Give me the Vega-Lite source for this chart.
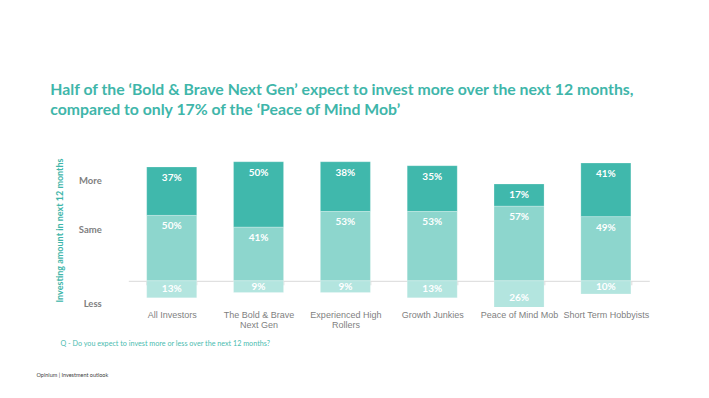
{
  "$schema": "https://vega.github.io/schema/vega-lite/v6.json",
  "width": 521,
  "height": 157,
  "autosize": "none",
  "padding": {"left": 128.3, "top": 150, "right": 59.7, "bottom": 91},
  "background": "white",
  "config": {"view": {"stroke": null}},
  "title": {
    "text": ["Half of the ‘Bold & Brave Next Gen’ expect to invest more over the next 12 months,", "compared to only 17% of the ‘Peace of Mind Mob’"],
    "anchor": "start",
    "frame": "group",
    "dx": -78,
    "offset": 31,
    "font": "Lato",
    "fontSize": 15.8,
    "fontWeight": "bold",
    "color": "#3fb6aa",
    "lineHeight": 20
  },
  "data": {
    "values": [
      {"group": "All Investors", "level": "More", "pct": 37},
      {"group": "All Investors", "level": "Same", "pct": 50},
      {"group": "All Investors", "level": "Less", "pct": 13},
      {"group": "The Bold & Brave Next Gen", "level": "More", "pct": 50},
      {"group": "The Bold & Brave Next Gen", "level": "Same", "pct": 41},
      {"group": "The Bold & Brave Next Gen", "level": "Less", "pct": 9},
      {"group": "Experienced High Rollers", "level": "More", "pct": 38},
      {"group": "Experienced High Rollers", "level": "Same", "pct": 53},
      {"group": "Experienced High Rollers", "level": "Less", "pct": 9},
      {"group": "Growth Junkies", "level": "More", "pct": 35},
      {"group": "Growth Junkies", "level": "Same", "pct": 53},
      {"group": "Growth Junkies", "level": "Less", "pct": 13},
      {"group": "Peace of Mind Mob", "level": "More", "pct": 17},
      {"group": "Peace of Mind Mob", "level": "Same", "pct": 57},
      {"group": "Peace of Mind Mob", "level": "Less", "pct": 26},
      {"group": "Short Term Hobbyists", "level": "More", "pct": 41},
      {"group": "Short Term Hobbyists", "level": "Same", "pct": 49},
      {"group": "Short Term Hobbyists", "level": "Less", "pct": 10}
    ]
  },
  "transform": [
    {"calculate": "datum.level === 'Less' ? -datum.pct : datum.pct", "as": "v"},
    {"calculate": "datum.pct + '%'", "as": "label"}
  ],
  "encoding": {
    "order": {"field": "level", "sort": "descending"}
  },
  "resolve": {"axis": {"x": "independent", "y": "independent"}},
  "layer": [
    {
      "mark": {"type": "bar", "clip": true, "stroke": "#ffffff", "strokeOpacity": 0.35, "strokeWidth": 0.6},
      "encoding": {
        "x": {
          "field": "group",
          "type": "nominal",
          "sort": null,
          "scale": {"paddingInner": 0.424, "paddingOuter": 0.212},
          "axis": {
            "orient": "bottom",
            "labelAngle": 0,
            "labelExpr": "datum.label === 'The Bold & Brave Next Gen' ? ['The Bold & Brave', 'Next Gen'] : datum.label === 'Experienced High Rollers' ? ['Experienced High', 'Rollers'] : datum.label",
            "offset": -26.2,
            "domainColor": "#d9d9d9",
            "tickColor": "#d9d9d9",
            "tickSize": 4,
            "tickBand": "extent",
            "labelPadding": 26,
            "labelFont": "Liberation Sans",
            "labelFontSize": 9,
            "labelColor": "#7f7f7f",
            "labelLineHeight": 10,
            "labelBaseline": "top",
            "title": "Q - Do you expect to invest more or less over the next 12 months?",
            "titleAnchor": "start",
            "titleAlign": "left",
            "titleBaseline": "middle",
            "titleX": -68.3,
            "titleY": 62.2,
            "titleFont": "Lato",
            "titleFontSize": 7.2,
            "titleFontWeight": "normal",
            "titleColor": "#4cbcb0"
          }
        },
        "y": {
          "field": "v",
          "type": "quantitative",
          "stack": "zero",
          "scale": {"domain": [-20, 100], "nice": false, "zero": false},
          "axis": {
            "orient": "left",
            "values": [77, 39, -17.7],
            "labelExpr": "datum.value > 60 ? 'More' : datum.value > 0 ? 'Same' : 'Less'",
            "grid": false,
            "domain": false,
            "ticks": false,
            "labelPadding": 27,
            "labelFont": "Lato",
            "labelFontSize": 9.5,
            "labelColor": "#7f7f7f",
            "labelFontWeight": "bold",
            "title": "Investing amount in next 12 months",
            "titleX": -69,
            "titleY": 80,
            "titleAngle": -90,
            "titleAlign": "center",
            "titleBaseline": "middle",
            "titleFont": "Lato",
            "titleFontSize": 9,
            "titleFontWeight": "bold",
            "titleColor": "#3fb6aa"
          }
        },
        "color": {
          "field": "level",
          "type": "nominal",
          "scale": {"domain": ["More", "Same", "Less"], "range": ["#40b8ac", "#8dd6cd", "#b3e5df"]},
          "legend": null
        }
      }
    },
    {
      "transform": [{"filter": "datum.level !== 'Less'"}],
      "mark": {"type": "text", "baseline": "middle", "dy": 11, "color": "white", "font": "Lato", "fontSize": 10, "fontWeight": "bold"},
      "encoding": {
        "x": {"field": "group", "type": "nominal", "sort": null, "axis": null},
        "y": {"field": "v", "type": "quantitative", "stack": "zero", "axis": null},
        "text": {"field": "label", "type": "nominal"}
      }
    },
    {
      "transform": [{"filter": "datum.level === 'Less'"}],
      "mark": {"type": "text", "baseline": "middle", "color": "white", "font": "Lato", "fontSize": 10, "fontWeight": "bold"},
      "encoding": {
        "x": {
          "field": "group",
          "type": "nominal",
          "sort": null,
          "axis": {
            "orient": "bottom",
            "labels": false,
            "ticks": false,
            "domain": false,
            "grid": false,
            "title": "Opinium | Investment outlook",
            "titleAnchor": "start",
            "titleAlign": "left",
            "titleBaseline": "middle",
            "titleX": -92.3,
            "titleY": 67,
            "titleFont": "Lato",
            "titleFontSize": 5.5,
            "titleFontWeight": "normal",
            "titleColor": "#404040"
          }
        },
        "y": {"field": "v", "type": "quantitative", "stack": "zero", "bandPosition": 0.5, "axis": null},
        "text": {"field": "label", "type": "nominal"}
      }
    }
  ]
}
